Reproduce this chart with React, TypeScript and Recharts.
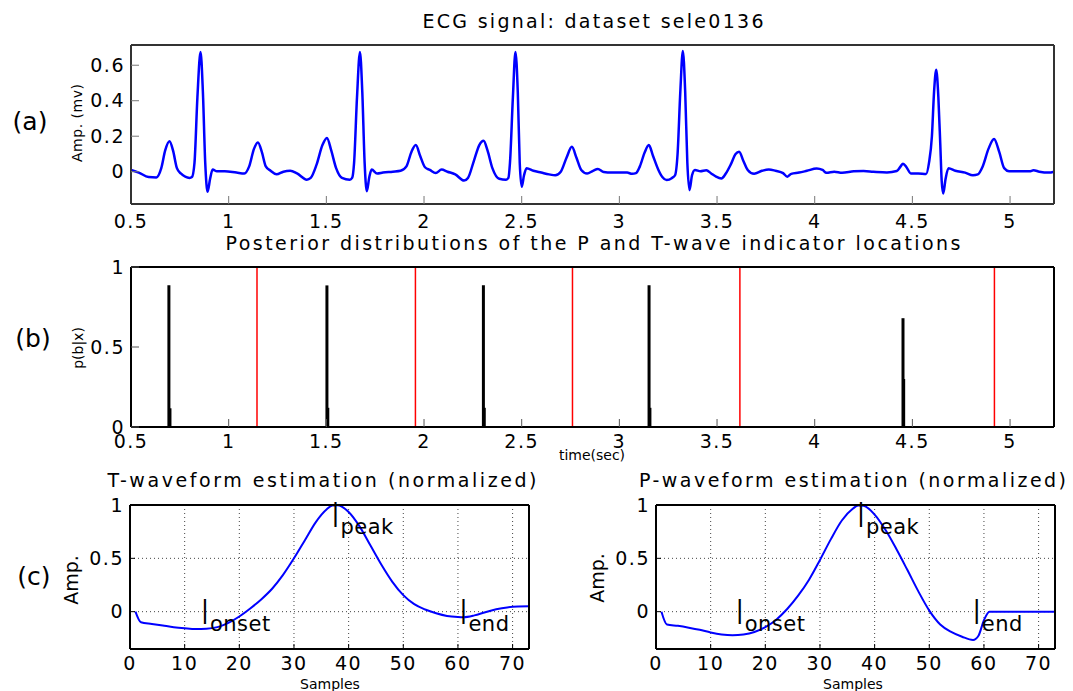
import React from "react";
import {
  LineChart,
  Line,
  XAxis,
  YAxis,
  CartesianGrid,
  ReferenceLine,
  ReferenceDot,
} from "recharts";

const FONT = "'DejaVu Sans', 'Liberation Sans', sans-serif";

// (a) ECG signal, dataset sele0136
const ECG_TIME = [
  0.5, 0.54, 0.59, 0.63, 0.655, 0.675, 0.697, 0.715, 0.735, 0.755, 0.8, 0.812,
  0.825, 0.84, 0.856, 0.868, 0.88, 0.892, 0.905, 0.918, 0.94, 0.98, 1.04, 1.08,
  1.105, 1.13, 1.15, 1.17, 1.19, 1.215, 1.245, 1.28, 1.315, 1.35, 1.4, 1.42,
  1.45, 1.48, 1.503, 1.525, 1.55, 1.58, 1.62, 1.632, 1.642, 1.657, 1.672, 1.684,
  1.696, 1.707, 1.72, 1.732, 1.76, 1.79, 1.84, 1.88, 1.91, 1.935, 1.958, 1.98,
  2.005, 2.03, 2.06, 2.09, 2.12, 2.16, 2.205, 2.225, 2.255, 2.283, 2.305, 2.325,
  2.35, 2.385, 2.42, 2.432, 2.44, 2.455, 2.468, 2.48, 2.49, 2.5, 2.512, 2.525,
  2.56, 2.6, 2.64, 2.672, 2.7, 2.73, 2.757, 2.78, 2.805, 2.835, 2.865, 2.89,
  2.92, 2.96, 3.0, 3.04, 3.065, 3.085, 3.105, 3.13, 3.151, 3.172, 3.2, 3.22,
  3.242, 3.27, 3.285, 3.298, 3.312, 3.325, 3.337, 3.348, 3.359, 3.372, 3.387,
  3.415, 3.445, 3.47, 3.495, 3.522, 3.545, 3.57, 3.595, 3.613, 3.635, 3.657,
  3.69, 3.73, 3.765, 3.8, 3.838, 3.86, 3.88, 3.92, 3.96, 4.01, 4.04, 4.06, 4.1,
  4.14, 4.2, 4.25, 4.3, 4.37, 4.42, 4.44, 4.452, 4.47, 4.492, 4.53, 4.57, 4.585,
  4.6, 4.611, 4.622, 4.633, 4.643, 4.65, 4.658, 4.67, 4.685, 4.72, 4.77, 4.81,
  4.835, 4.86, 4.89, 4.918, 4.945, 4.97, 4.995, 5.05, 5.1, 5.12, 5.15, 5.2,
  5.225,
];
const ECG_AMP = [
  0.01, -0.005, -0.03, -0.032, 0.02, 0.12, 0.172, 0.12, 0.02, -0.01, -0.035,
  -0.03, 0.05, 0.42, 0.675, 0.45, 0.05, -0.113, -0.04, 0.012, 0.002, 0.003,
  -0.005, -0.01, 0.03, 0.13, 0.165, 0.11, 0.03, 0.005, -0.015, 0.0, 0.005,
  -0.01, -0.045, -0.035, 0.04, 0.15, 0.19, 0.12, 0.02, -0.035, -0.045, -0.035,
  0.05, 0.42, 0.675, 0.45, 0.05, -0.11, -0.03, 0.012, -0.01, -0.005, 0.0, 0.005,
  0.03, 0.11, 0.15, 0.09, 0.025, 0.01, -0.008, 0.012, 0.0, -0.015, -0.05,
  -0.035, 0.06, 0.15, 0.174, 0.12, 0.02, -0.04, -0.045, -0.035, 0.05, 0.42,
  0.675, 0.45, 0.05, -0.085, -0.02, 0.02, 0.005, -0.005, -0.015, -0.02, 0.0,
  0.08, 0.14, 0.08, 0.01, -0.01, 0.005, 0.015, -0.002, -0.005, -0.005, -0.005,
  -0.012, -0.008, 0.03, 0.11, 0.15, 0.09, 0.01, -0.03, -0.047, -0.035, -0.02,
  0.1, 0.45, 0.68, 0.45, 0.05, -0.104, -0.02, 0.01, 0.002, 0.008, -0.01, -0.028,
  -0.038, -0.01, 0.04, 0.1, 0.113, 0.06, 0.01, -0.012, 0.005, 0.013, 0.005,
  -0.008, -0.028, -0.012, -0.005, 0.005, 0.018, 0.01, -0.006, 0.0, -0.006,
  0.002, 0.004, 0.0, -0.004, 0.004, 0.03, 0.045, 0.025, -0.01, -0.01, -0.013,
  0.05, 0.2, 0.45, 0.575, 0.42, 0.15, -0.05, -0.123, -0.04, 0.02, 0.005, -0.005,
  -0.02, -0.015, 0.03, 0.13, 0.184, 0.11, 0.02, 0.003, 0.003, 0.002, 0.008, 0.0,
  -0.005, 0.0,
];
const TIME_TICKS = [0.5, 1, 1.5, 2, 2.5, 3, 3.5, 4, 4.5, 5];
const ECG_AMP_TICKS = [0, 0.2, 0.4, 0.6];

// (b) posterior of indicator locations
const P_LOC = [0.694, 1.503, 2.304, 3.152, 4.452];
const P_PROB = [0.886, 0.885, 0.886, 0.886, 0.68];
const P_LOC_2 = [0.702, 1.51, 2.311, 3.159, 4.458];
const P_PROB_2 = [0.117, 0.12, 0.12, 0.12, 0.3];
const T_LOC = [1.145, 1.956, 2.76, 3.617, 4.92];
const PROB_TICKS = [0, 0.5, 1];

// (c) waveform estimates
const T_SAMPLES = [
  1, 2, 4, 6, 8, 10, 12, 14, 16, 18, 20, 22, 24, 26, 28, 30, 32, 34, 36, 37, 38,
  40, 42, 44, 46, 48, 50, 52, 54, 56, 58, 60, 61, 63, 65, 67, 69, 71, 73,
];
const T_WAVE = [
  0, -0.1, -0.115, -0.13, -0.145, -0.155, -0.162, -0.16, -0.145, -0.105, -0.045,
  0.03, 0.115, 0.215, 0.345, 0.5, 0.67, 0.84, 0.96, 0.995, 0.998, 0.935, 0.8,
  0.62, 0.44, 0.28, 0.155, 0.07, 0.02, -0.015, -0.04, -0.05, -0.052, -0.035,
  -0.005, 0.022, 0.04, 0.048, 0.05,
];
const P_SAMPLES = [
  1, 2, 4, 6, 8, 10, 12, 14, 16, 18, 20, 22, 24, 26, 28, 30, 32, 34, 36, 37, 38,
  40, 42, 44, 46, 48, 50, 52, 54, 56, 58, 59, 60, 61, 63, 66, 70, 73,
];
const P_WAVE = [
  0, -0.12, -0.133, -0.15, -0.17, -0.195, -0.213, -0.22, -0.213, -0.19, -0.145,
  -0.075, 0.025, 0.15, 0.3, 0.485, 0.68, 0.855, 0.965, 0.995, 0.992, 0.91,
  0.765, 0.585, 0.39, 0.19, 0.01, -0.12, -0.19, -0.235, -0.265, -0.225, -0.08,
  0, 0, 0, 0, 0,
];
const MARK_NAMES = ["onset", "peak", "end"];
const T_MARK_X = [13.7, 37.6, 61.0];
const P_MARK_X = [15.3, 37.5, 58.7];
const MARK_Y = [0.02, 0.925, 0.02];
const SAMPLE_TICKS = [0, 10, 20, 30, 40, 50, 60, 70];

const ecgData = ECG_TIME.map((x, i) => ({ x, y: ECG_AMP[i] }));
const spikeData = P_LOC.map((x, i) => ({ x, y: P_PROB[i] }));
const tData = T_SAMPLES.map((x, i) => ({ x, y: T_WAVE[i] }));
const pData = P_SAMPLES.map((x, i) => ({ x, y: P_WAVE[i] }));

type FrameOpts = {
  xDomain: [number, number];
  xTicks: number[];
  yDomain: [number, number];
  yTicks: number[];
  tickLen: number;
  xMargin: number;
  color: string;
  tickColor: string;
  data: { x: number; y: number }[];
};

// box with inward ticks on all four sides, like matlab
function frame(o: FrameOpts) {
  const line = { stroke: o.color, strokeWidth: 2 };
  const tl = { stroke: o.tickColor, strokeWidth: 1 };
  const tick = { fontSize: 19, fill: "#000", letterSpacing: 1.5 };
  return [
    <XAxis
      key='xb'
      xAxisId='b'
      dataKey='x'
      type='number'
      domain={o.xDomain}
      ticks={o.xTicks}
      interval={0}
      allowDataOverflow
      height={30}
      tickSize={-o.tickLen}
      tickMargin={o.xMargin}
      axisLine={line}
      tickLine={tl}
      tick={tick}
    />,
    <XAxis
      key='xt'
      xAxisId='t'
      dataKey='x'
      orientation='top'
      type='number'
      domain={o.xDomain}
      ticks={o.xTicks}
      interval={0}
      allowDataOverflow
      height={1}
      tickSize={-o.tickLen}
      axisLine={line}
      tickLine={tl}
      tick={false}
    />,
    <YAxis
      key='yl'
      yAxisId='l'
      type='number'
      domain={o.yDomain}
      ticks={o.yTicks}
      interval={0}
      allowDataOverflow
      width={50}
      tickSize={-o.tickLen}
      tickMargin={o.tickLen + 6}
      axisLine={line}
      tickLine={tl}
      tick={tick}
    />,
    <YAxis
      key='yr'
      yAxisId='r'
      orientation='right'
      type='number'
      domain={o.yDomain}
      ticks={o.yTicks}
      interval={0}
      allowDataOverflow
      width={1}
      tickSize={-o.tickLen}
      axisLine={line}
      tickLine={tl}
      tick={false}
    />,
    // keeps the top/right axes bound to data so they draw
    <Line
      key='ghost'
      xAxisId='t'
      yAxisId='r'
      data={o.data}
      dataKey='y'
      stroke='none'
      dot={false}
      activeDot={false}
      isAnimationActive={false}
    />,
  ];
}

const markShape = (name: string) => (props: any) =>
  (
    <g>
      <text x={props.cx} y={props.cy + 8} fontSize={25} textAnchor='middle' fill='#000'>
        |
      </text>
      <text x={props.cx + 5} y={props.cy + 21} fontSize={21} fill='#000' letterSpacing={0.5}>
        {name}
      </text>
    </g>
  );

function WaveChart({ data, marks }: { data: { x: number; y: number }[]; marks: number[] }) {
  return (
    <>
      <CartesianGrid xAxisId='b' yAxisId='l' stroke='#444' strokeDasharray='1 3' />
      {frame({
        xDomain: [0, 73],
        xTicks: SAMPLE_TICKS,
        yDomain: [-0.35, 1],
        yTicks: PROB_TICKS,
        tickLen: 5,
        xMargin: 13,
        color: "#000",
        tickColor: "#000",
        data,
      })}
      <Line
        xAxisId='b'
        yAxisId='l'
        data={data}
        dataKey='y'
        type='monotone'
        stroke='#0000ff'
        strokeWidth={2}
        dot={false}
        isAnimationActive={false}
      />
      {marks.map((mx, i) => (
        <ReferenceDot
          key={i}
          xAxisId='b'
          yAxisId='l'
          x={mx}
          y={MARK_Y[i]}
          r={0}
          ifOverflow='visible'
          shape={markShape(MARK_NAMES[i])}
        />
      ))}
    </>
  );
}

export default function App() {
  return (
    <div
      style={{
        position: "absolute",
        left: 0,
        top: 0,
        width: 1073,
        height: 691,
        background: "#fff",
        fontFamily: FONT,
        overflow: "hidden",
      }}>
      {/* (a) */}
      <div style={{ position: "absolute", left: 0, top: 0 }}>
        <LineChart width={1073} height={240} margin={{ top: 44, right: 18, left: 81, bottom: 6 }}>
          {frame({
            xDomain: [0.5, 5.225],
            xTicks: TIME_TICKS,
            yDomain: [-0.182, 0.714],
            yTicks: ECG_AMP_TICKS,
            tickLen: 8,
            xMargin: 19,
            color: "#333",
            tickColor: "#777",
            data: ecgData,
          })}
          <Line
            xAxisId='b'
            yAxisId='l'
            data={ecgData}
            dataKey='y'
            type='monotone'
            stroke='#0000ff'
            strokeWidth={2.5}
            dot={false}
            isAnimationActive={false}
          />
        </LineChart>
      </div>

      {/* (b) */}
      <div style={{ position: "absolute", left: 0, top: 230 }}>
        <LineChart width={1073} height={240} margin={{ top: 36, right: 18, left: 81, bottom: 13 }}>
          {frame({
            xDomain: [0.5, 5.225],
            xTicks: TIME_TICKS,
            yDomain: [0, 1],
            yTicks: PROB_TICKS,
            tickLen: 8,
            xMargin: 16,
            color: "#000",
            tickColor: "#555",
            data: spikeData,
          })}
          {T_LOC.map((t) => (
            <ReferenceLine key={"t" + t} xAxisId='b' yAxisId='l' x={t} stroke='#ff0000' strokeWidth={1.5} />
          ))}
          {P_LOC.map((t, i) => (
            <ReferenceLine
              key={"p" + t}
              xAxisId='b'
              yAxisId='l'
              segment={[
                { x: t, y: 0 },
                { x: t, y: P_PROB[i] },
              ]}
              stroke='#000'
              strokeWidth={3}
            />
          ))}
          {P_LOC_2.map((t, i) => (
            <ReferenceLine
              key={"q" + t}
              xAxisId='b'
              yAxisId='l'
              segment={[
                { x: t, y: 0 },
                { x: t, y: P_PROB_2[i] },
              ]}
              stroke='#000'
              strokeWidth={2}
            />
          ))}
        </LineChart>
      </div>

      {/* (c) left: T wave */}
      <div style={{ position: "absolute", left: 0, top: 470 }}>
        <LineChart width={540} height={221} margin={{ top: 34, right: 10, left: 80, bottom: 12 }}>
          {WaveChart({ data: tData, marks: T_MARK_X })}
        </LineChart>
      </div>

      {/* (c) right: P wave */}
      <div style={{ position: "absolute", left: 540, top: 470 }}>
        <LineChart width={533} height={221} margin={{ top: 34, right: 17, left: 66, bottom: 12 }}>
          {WaveChart({ data: pData, marks: P_MARK_X })}
        </LineChart>
      </div>

      <svg
        width={1073}
        height={691}
        style={{ position: "absolute", left: 0, top: 0, pointerEvents: "none" }}>
        <g fill='#000' fontFamily={FONT}>
          <text x={593} y={28} fontSize={19} textAnchor='middle' textLength={341} lengthAdjust='spacing'>
            ECG signal: dataset sele0136
          </text>
          <text x={593} y={249.5} fontSize={19} textAnchor='middle' textLength={735} lengthAdjust='spacing'>
            Posterior distributions of the P and T-wave indicator locations
          </text>
          <text x={322} y={487} fontSize={19} textAnchor='middle' textLength={429} lengthAdjust='spacing'>
            T-waveform estimation (normalized)
          </text>
          <text x={852.5} y={487} fontSize={19} textAnchor='middle' textLength={427} lengthAdjust='spacing'>
            P-waveform estimation (normalized)
          </text>

          <text x={30} y={130} fontSize={25} textAnchor='middle'>(a)</text>
          <text x={33} y={347} fontSize={25} textAnchor='middle'>(b)</text>
          <text x={34} y={585} fontSize={25} textAnchor='middle'>(c)</text>

          <text transform='translate(82,123) rotate(-90)' fontSize={14} textAnchor='middle' textLength={78} lengthAdjust='spacing'>
            Amp. (mv)
          </text>
          <text transform='translate(83,348) rotate(-90)' fontSize={14} textAnchor='middle'>
            p(b|x)
          </text>
          <text transform='translate(78,580) rotate(-90)' fontSize={19} textAnchor='middle'>
            Amp.
          </text>
          <text transform='translate(604,578) rotate(-90)' fontSize={19} textAnchor='middle'>
            Amp.
          </text>

          <text x={592} y={460} fontSize={14} textAnchor='middle'>time(sec)</text>
          <text x={330} y={689} fontSize={14} textAnchor='middle'>Samples</text>
          <text x={853} y={689} fontSize={14} textAnchor='middle'>Samples</text>
        </g>
      </svg>
    </div>
  );
}
